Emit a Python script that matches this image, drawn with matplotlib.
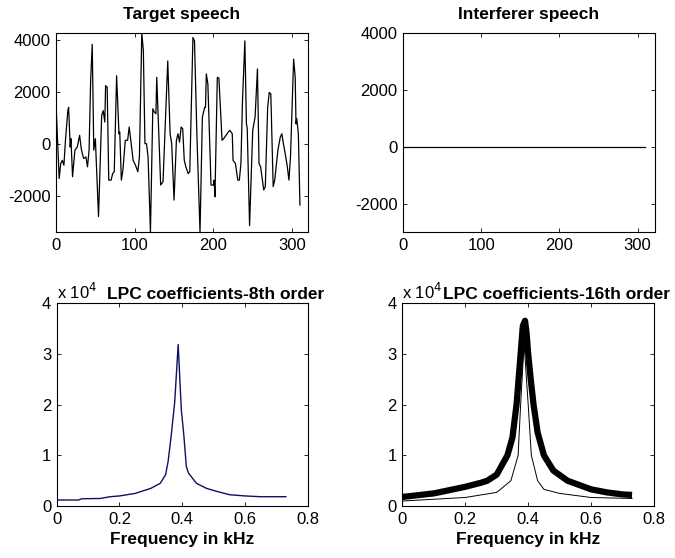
import numpy as np
import matplotlib
matplotlib.use("Agg")
import matplotlib.pyplot as plt

plt.rcParams["font.family"] = ["Liberation Sans", "DejaVu Sans"]
plt.rcParams["axes.unicode_minus"] = False

# target speech samples (index, amplitude)
speech_n = [0, 4, 6, 8, 10, 12, 15, 16, 18, 19, 21, 24, 27, 30, 32, 35, 38, 40, 42, 44,
            46, 48, 50, 54, 58, 60, 62, 63, 65, 67, 70, 72, 74, 77, 80, 81, 83, 85, 88, 91,
            93, 95, 98, 101, 104, 106, 109, 111, 113, 115, 117, 120, 123, 125, 127, 128,
            133, 136, 142, 145, 147, 150, 153, 155, 157, 159, 161, 163, 165, 168, 170,
            174, 176, 179, 183, 186, 189, 190, 191, 193, 197, 200, 201, 202, 205, 207,
            211, 213, 219, 221, 224, 225, 228, 231, 233, 235, 237, 240, 242, 243, 246,
            250, 253, 256, 258, 260, 264, 266, 269, 271, 273, 276, 278, 282, 285, 287,
            289, 292, 294, 296, 298, 302, 304, 305, 306, 308, 310]
speech_v = [1530, -1340, -760, -640, -830, 130, 1270, 1400, -130, 190, -1270, -250, -130,
            320, -190, -570, -510, -890, -250, 2420, 3820, -250, 190, -2800, 1080, 1270,
            830, 2230, 2170, -1400, -1400, -1150, -1080, 2610, 380, 450, -1400, -1020, 130,
            130, 640, 130, -640, -830, -1080, -510, 4250, 3570, 0, 0, -510, -3400, 1340,
            1210, 1150, 2550, -1590, -1460, 3180, 380, 0, -2170, 130, 380, 60, 640, 570,
            -640, -890, -1150, -1080, 4080, 3950, 380, -3400, 1020, 1400, 1400, 2680, 2290,
            -1590, -1590, -1400, -2040, 2550, 2520, 130, 190, 450, 510, 380, -640, -760,
            -1400, -1400, -760, 1660, 3950, 760, 600, -3150, 510, 1020, 2870, -760, -890,
            -1780, -1650, 1400, 1970, 1910, -1650, -1400, -250, 250, 380, 0, -510, -890,
            -1400, -510, 3250, 2550, 760, 960, 380, -2360]

interferer_n = [0, 310]
interferer_v = [0, 0]

# LPC spectra (kHz, magnitude)
f8 = [0.0, 0.069, 0.08, 0.138, 0.17, 0.2, 0.25, 0.3, 0.33, 0.347, 0.355, 0.365, 0.376,
      0.387, 0.397, 0.405, 0.413, 0.42, 0.445, 0.477, 0.51, 0.55, 0.6, 0.65, 0.7, 0.73]
lpc8 = [1200, 1200, 1450, 1500, 1850, 2000, 2500, 3500, 4500, 6200, 8800, 14000, 20500,
        31800, 19000, 14000, 7800, 6500, 4500, 3500, 2900, 2250, 2000, 1850, 1850, 1850]

f16 = [0.0, 0.1, 0.2, 0.25, 0.27, 0.3, 0.334, 0.35, 0.363, 0.376, 0.383, 0.39, 0.395,
       0.40, 0.408, 0.417, 0.43, 0.45, 0.48, 0.525, 0.6, 0.65, 0.7, 0.73]
lpc16 = [1800, 2500, 3800, 4600, 5000, 6200, 10000, 13500, 20000, 30000, 35500, 36500,
         34000, 30000, 25000, 20000, 14500, 10000, 7000, 5000, 3300, 2700, 2300, 2200]

f8b = [0.0, 0.2, 0.3, 0.345, 0.368, 0.376, 0.387, 0.40, 0.41, 0.43, 0.45, 0.5, 0.6, 0.73]
lpc8b = [1000, 1700, 2700, 5000, 10000, 20000, 32000, 20000, 10000, 5000, 3300, 2500,
         1700, 1500]

TICK = 12
TITLE = 12.5

fig = plt.figure(figsize=(6.75, 5.58), dpi=100)
ax1 = fig.add_axes([0.083, 0.584, 0.373, 0.357])
ax2 = fig.add_axes([0.597, 0.584, 0.373, 0.357])
ax3 = fig.add_axes([0.084, 0.093, 0.372, 0.364])
ax4 = fig.add_axes([0.596, 0.093, 0.373, 0.364])

for ax in (ax1, ax2, ax3, ax4):
    ax.tick_params(direction="in", length=3, width=0.6, top=True, right=True,
                   labelsize=TICK, pad=4)
    for s in ax.spines.values():
        s.set_linewidth(0.8)

ax1.plot(speech_n, speech_v, color="black", lw=0.9)
ax1.set_xlim(0, 320)
ax1.set_ylim(-3400, 4256)
ax1.set_xticks([0, 100, 200, 300])
ax1.set_yticks([-2000, 0, 2000, 4000])
ax1.set_title("Target speech", fontsize=TITLE, fontweight="bold", pad=10)

ax2.plot(interferer_n, interferer_v, color="black", lw=0.9)
ax2.set_xlim(0, 322)
ax2.set_ylim(-3000, 4000)
ax2.set_xticks([0, 100, 200, 300])
ax2.set_yticks([-2000, 0, 2000, 4000])
ax2.set_title("Interferer speech", fontsize=TITLE, fontweight="bold", pad=10)

ax3.plot(f8, lpc8, color="#101060", lw=1.0)
ax4.plot(f16, lpc16, color="black", lw=4.5, solid_capstyle="butt",
         solid_joinstyle="round")
ax4.plot(f8b, lpc8b, color="black", lw=0.7)

for ax, title, tx in ((ax3, "LPC coefficients-8th order", 0.2),
                      (ax4, "LPC coefficients-16th order", 0.16)):
    ax.set_xlim(0, 0.8)
    ax.set_ylim(0, 40000)
    ax.set_xticks([0, 0.2, 0.4, 0.6, 0.8])
    ax.set_xticklabels(["0", "0.2", "0.4", "0.6", "0.8"])
    ax.set_yticks([0, 10000, 20000, 30000, 40000])
    ax.set_yticklabels(["0", "1", "2", "3", "4"])
    ax.set_xlabel("Frequency in kHz", fontsize=TITLE, fontweight="bold", labelpad=4)
    ax.text(0.0, 1.02, r"x 10$^{4}$", transform=ax.transAxes, fontsize=TICK,
            ha="left", va="baseline")
    ax.text(tx, 1.02, title, transform=ax.transAxes, fontsize=TITLE,
            fontweight="bold", ha="left", va="baseline")

fig.savefig("out.png", dpi=100)
